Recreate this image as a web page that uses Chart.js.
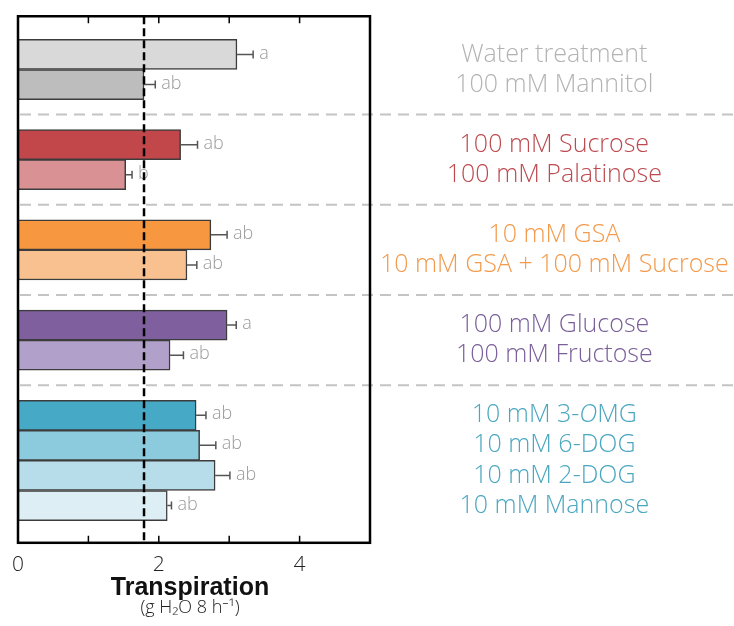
<!DOCTYPE html>
<html>
<head>
<meta charset="utf-8">
<script src="https://cdn.jsdelivr.net/npm/chart.js@4.4.1/dist/chart.umd.min.js"></script>
<style>
  html, body { margin: 0; padding: 0; background: #fff; }
  #wrap { width: 734px; height: 626px; }
</style>
</head>
<body>
<div id="wrap"><canvas id="chart"></canvas></div>
<script>
// rows from top to bottom; '' marks the gap between groups
const categories = ['Water treatment', '100 mM Mannitol', '',
  '100 mM Sucrose', '100 mM Palatinose', '',
  '10 mM GSA', '10 mM GSA + 100 mM Sucrose', '',
  '100 mM Glucose', '100 mM Fructose', '',
  '10 mM 3-OMG', '10 mM 6-DOG', '10 mM 2-DOG', '10 mM Mannose'];
const transpiration = [3.11, 1.79, null, 2.31, 1.53, null, 2.74, 2.40, null, 2.97, 2.16, null, 2.53, 2.58, 2.80, 2.12];
const stdErr = [0.23, 0.16, null, 0.24, 0.09, null, 0.23, 0.14, null, 0.13, 0.19, null, 0.14, 0.23, 0.21, 0.06];
const letters = ['a', 'ab', '', 'ab', 'b', '', 'ab', 'ab', '', 'a', 'ab', '', 'ab', 'ab', 'ab', 'ab'];
const referenceLevel = 1.79;
const xTickLabels = ['0', '', '2', '', '4', ''];

const barColors = ['#d9d9d9', '#bdbdbd', null, '#c2474b', '#da9194', null, '#f7973f', '#f9c18f', null,
  '#7f5f9e', '#b1a0c9', null, '#46a9c6', '#8ccbdd', '#b6dde9', '#ddeef4'];
const textColors = ['#b3b3b3', '#b3b3b3', null, '#bd4a4f', '#bd4a4f', null, '#f39a4b', '#f39a4b', null,
  '#7a5f99', '#7a5f99', null, '#4aa7bf', '#4aa7bf', '#4aa7bf', '#4aa7bf'];

const rows = categories.map((c, i) => c ? i : null).filter(i => i !== null);
const LIGHT = '"Open Sans", Roboto, "Liberation Sans", sans-serif';
const LABEL_SIZE = 25;
// the 3-O-methylglucose label has an italic O, drawn by hand below
const isItalicLabel = s => s.includes('3-OMG');

const decor = {
  id: 'decor',
  beforeDatasetsDraw(chart) {
    const { ctx, chartArea: a, scales: { y } } = chart;
    ctx.save();
    ctx.strokeStyle = '#c4c4c4';
    ctx.lineWidth = 2;
    ctx.setLineDash([11, 7]);
    categories.forEach((c, i) => {
      if (c) return;
      const py = y.getPixelForValue(i);
      ctx.beginPath();
      ctx.moveTo(a.left + 2, py);
      ctx.lineTo(chart.width, py);
      ctx.stroke();
    });
    ctx.restore();
  },
  afterDatasetsDraw(chart) {
    const { ctx, chartArea: a, scales: { x } } = chart;
    const meta = chart.getDatasetMeta(0);
    ctx.save();
    // error bars and letters
    meta.data.forEach((bar, k) => {
      const i = rows[k];
      const x0 = x.getPixelForValue(transpiration[i]);
      const x1 = x.getPixelForValue(transpiration[i] + stdErr[i]);
      ctx.strokeStyle = '#555';
      ctx.lineWidth = 1.5;
      ctx.beginPath();
      ctx.moveTo(x0, bar.y);
      ctx.lineTo(x1, bar.y);
      ctx.moveTo(x1, bar.y - 4);
      ctx.lineTo(x1, bar.y + 4);
      ctx.stroke();
      ctx.fillStyle = '#9a9a9a';
      ctx.font = '300 18px ' + LIGHT;
      ctx.textAlign = 'left';
      ctx.textBaseline = 'middle';
      ctx.fillText(letters[i], x1 + 6, bar.y - 1);
    });
    // reference line
    const rx = x.getPixelForValue(referenceLevel);
    ctx.strokeStyle = '#000';
    ctx.lineWidth = 2.5;
    ctx.setLineDash([8, 4]);
    ctx.beginPath();
    ctx.moveTo(rx, a.top);
    ctx.lineTo(rx, a.bottom);
    ctx.stroke();
    ctx.setLineDash([]);
    // inward tick marks
    ctx.lineWidth = 1.5;
    x.ticks.forEach(t => {
      const px = x.getPixelForValue(t.value);
      ctx.beginPath();
      ctx.moveTo(px, a.top);
      ctx.lineTo(px, a.top + 7);
      ctx.moveTo(px, a.bottom);
      ctx.lineTo(px, a.bottom - 7);
      ctx.stroke();
    });
    // frame
    ctx.lineWidth = 2.5;
    ctx.strokeRect(a.left, a.top, a.right - a.left, a.bottom - a.top);
    ctx.restore();
  },
  afterDraw(chart) {
    const { ctx, chartArea: a, scales: { y } } = chart;
    const cx = (a.left + a.right) / 2 - 4;
    ctx.save();
    ctx.fillStyle = '#111';
    ctx.textAlign = 'center';
    ctx.textBaseline = 'middle';
    ctx.font = 'bold 25px "Liberation Sans", Arial, sans-serif';
    ctx.fillText('Transpiration', cx, 588);
    ctx.font = '300 18px ' + LIGHT;
    ctx.fillStyle = '#222';
    ctx.fillText('(g H\u2082O 8 h\u207B\u00B9)', cx, 608);

    // mixed-style category label
    const labelX = y.getLabelItems()[0].options.translation[0];
    categories.forEach((c, i) => {
      if (!c || !isItalicLabel(c)) return;
      const k = c.indexOf('O');
      const parts = [[c.slice(0, k), 'normal'], ['O', 'italic'], [c.slice(k + 1), 'normal']];
      const fonts = parts.map(p => p[1] + ' 300 ' + LABEL_SIZE + 'px ' + LIGHT);
      let w = 0;
      parts.forEach((p, j) => { ctx.font = fonts[j]; w += ctx.measureText(p[0]).width; });
      let px = labelX - w / 2;
      const py = y.getPixelForValue(i);
      ctx.fillStyle = textColors[i];
      ctx.textAlign = 'left';
      parts.forEach((p, j) => {
        ctx.font = fonts[j];
        ctx.fillText(p[0], px, py);
        px += ctx.measureText(p[0]).width;
      });
    });
    ctx.restore();
  }
};

new Chart(document.getElementById('chart'), {
  type: 'bar',
  data: {
    datasets: [{
      data: rows.map(i => ({ x: transpiration[i], y: i })),
      backgroundColor: rows.map(i => barColors[i]),
      borderColor: '#3c3c3c',
      borderWidth: 1.5,
      borderSkipped: false,
      barPercentage: 1,
      categoryPercentage: 1
    }]
  },
  options: {
    indexAxis: 'y',
    responsive: true,
    maintainAspectRatio: false,
    animation: false,
    layout: { padding: { left: 18, top: 7, right: 0, bottom: 38 } },
    plugins: { legend: { display: false }, tooltip: { enabled: false } },
    scales: {
      x: {
        type: 'linear',
        min: 0,
        max: 5,
        grid: { display: false, drawTicks: false },
        border: { display: false },
        ticks: {
          stepSize: 1,
          padding: 10,
          color: '#222',
          font: { family: LIGHT, size: 21, weight: 300 },
          callback: v => xTickLabels[v]
        }
      },
      y: {
        type: 'linear',
        position: 'right',
        reverse: true,
        offset: false,
        min: -1.27,
        max: 16.24,
        grid: { display: false, drawTicks: false, offset: false },
        border: { display: false },
        afterBuildTicks: s => { s.ticks = rows.map(i => ({ value: i })); },
        afterFit: s => { s.width = 364; },
        ticks: {
          autoSkip: false,
          crossAlign: 'center',
          padding: 10,
          font: { family: LIGHT, size: LABEL_SIZE, weight: 300, lineHeight: 0.5 },
          color: c => textColors[c.tick.value],
          callback: v => isItalicLabel(categories[v]) ? '' : categories[v]
        }
      }
    }
  },
  plugins: [decor]
});
</script>
</body>
</html>
